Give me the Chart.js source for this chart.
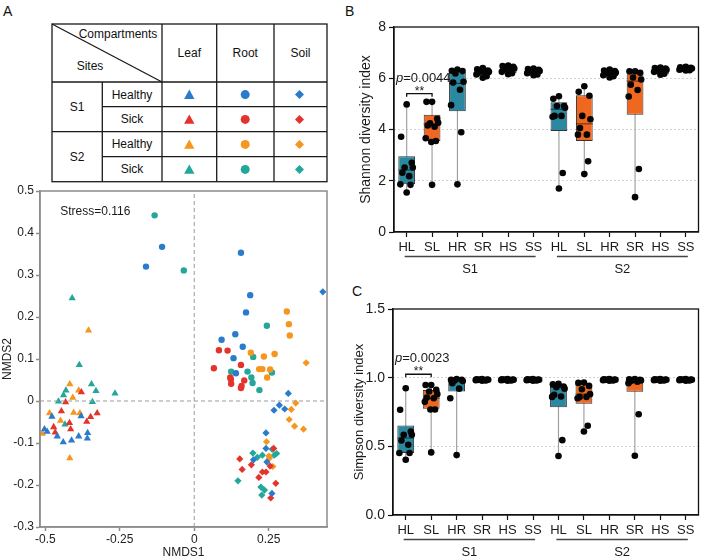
<!DOCTYPE html>
<html>
<head>
<meta charset="utf-8">
<script src="https://cdn.jsdelivr.net/npm/chart.js@4.4.1/dist/chart.umd.min.js"></script>
<style>
  body { margin: 0; background: #fff; width: 708px; height: 560px; position: relative; overflow: hidden;
         font-family: "Liberation Sans", Arial, sans-serif; }
  canvas, svg, .lab { position: absolute; }
  .lab { font-size: 14px; color: #111; }
</style>
</head>
<body>
<div class="lab" style="left:3px;top:3px">A</div>
<div class="lab" style="left:345px;top:3px">B</div>
<div class="lab" style="left:352px;top:283px">C</div>

<svg id="legendTable" style="left:0;top:0" width="340" height="186" font-family="Liberation Sans, Arial, sans-serif" font-size="12" fill="#111">
  <g stroke="#1a1a1a" stroke-width="1.3" fill="none">
    <rect x="52" y="24" width="275" height="157.7"/>
    <line x1="52" y1="24" x2="162" y2="82"/>
    <line x1="102.3" y1="82" x2="102.3" y2="181.7"/>
    <line x1="162" y1="24" x2="162" y2="181.7"/>
    <line x1="216.7" y1="24" x2="216.7" y2="181.7"/>
    <line x1="274" y1="24" x2="274" y2="181.7"/>
    <line x1="52" y1="82" x2="327" y2="82"/>
    <line x1="102.3" y1="106.7" x2="327" y2="106.7"/>
    <line x1="52" y1="131.7" x2="327" y2="131.7"/>
    <line x1="102.3" y1="156.7" x2="327" y2="156.7"/>
  </g>
  <g text-anchor="middle" dominant-baseline="central">
    <text x="118" y="33.5">Compartments</text>
    <text x="90" y="65.5">Sites</text>
    <text x="189.3" y="53">Leaf</text>
    <text x="245.3" y="53">Root</text>
    <text x="300.5" y="53">Soil</text>
    <text x="77" y="107">S1</text>
    <text x="77" y="157">S2</text>
    <text x="132" y="94.5">Healthy</text>
    <text x="132" y="119.3">Sick</text>
    <text x="132" y="144.3">Healthy</text>
    <text x="132" y="169.3">Sick</text>
  </g>
  <g id="legendMarks"></g>
</svg>

<canvas id="nmds" width="340" height="380" style="left:0;top:180px"></canvas>
<canvas id="shannon" width="368" height="280" style="left:340px;top:0"></canvas>
<canvas id="simpson" width="368" height="280" style="left:340px;top:280px"></canvas>

<script>
// ---- NMDS scores (NMDS1, NMDS2) ----
const s1HealthyLeaf = [[-0.478,-0.037],[-0.380,-0.036],[-0.503,-0.067],[-0.494,-0.073],[-0.460,-0.084],[-0.358,-0.076],[-0.388,-0.084],[-0.359,-0.089],[-0.412,-0.094],[-0.440,-0.098]];
const s1SickLeaf = [[-0.379,0.021],[-0.432,-0.003],[-0.446,-0.024],[-0.326,-0.029],[-0.348,-0.038],[-0.361,-0.049],[-0.419,-0.052],[-0.472,-0.062],[-0.415,-0.067],[-0.467,-0.075]];
const s2HealthyLeaf = [[-0.355,0.168],[-0.418,0.040],[-0.388,0.025],[-0.408,0.008],[-0.486,-0.029],[-0.405,-0.028],[-0.384,-0.029],[-0.449,-0.047],[-0.510,-0.078],[-0.418,-0.136]];
const s2SickLeaf = [[-0.410,0.245],[-0.386,0.086],[-0.345,0.040],[-0.431,0.025],[-0.330,0.024],[-0.439,0.014],[-0.456,-0.001],[-0.342,-0.002],[-0.266,0.018],[-0.434,-0.056]];

const s1HealthyRoot = [[-0.162,0.320],[-0.108,0.367],[0.157,0.353],[0.188,0.252],[0.174,0.211],[0.138,0.159],[0.092,0.146],[0.163,0.129],[0.132,0.102],[0.140,0.066]];
const s1SickRoot = [[0.083,0.121],[0.112,0.120],[0.066,0.078],[0.157,0.086],[0.123,0.052],[0.124,0.041],[0.168,0.049],[0.159,0.036],[0.157,0.031],[0.121,0.056]];
const s2HealthyRoot = [[0.311,0.213],[0.318,0.183],[0.321,0.156],[0.190,0.115],[0.234,0.106],[0.270,0.112],[0.218,0.076],[0.229,0.076],[0.255,0.075],[0.245,0.056]];
const s2SickRoot = [[-0.035,0.311],[-0.133,0.442],[0.244,0.179],[0.198,0.105],[0.124,0.070],[0.179,0.070],[0.192,0.056],[0.196,0.043],[0.261,0.068],[0.219,0.026]];

const s1HealthySoil = [[0.432,0.260],[0.316,0.018],[0.286,-0.010],[0.268,-0.022],[0.304,-0.019],[0.241,-0.076],[0.241,-0.113],[0.199,-0.140],[0.244,-0.145],[0.261,-0.220]];
const s1SickSoil = [[0.267,-0.113],[0.153,-0.138],[0.192,-0.152],[0.255,-0.155],[0.161,-0.163],[0.229,-0.169],[0.241,-0.169],[0.217,-0.182],[0.274,-0.196],[0.257,-0.231]];
const s2HealthySoil = [[0.376,0.091],[0.341,-0.005],[0.326,-0.020],[0.319,-0.044],[0.337,-0.060],[0.367,-0.067],[0.243,-0.097],[0.251,-0.131],[0.253,-0.136],[0.264,-0.156]];
const s2SickSoil = [[0.197,-0.124],[0.212,-0.134],[0.229,-0.129],[0.269,-0.129],[0.277,-0.125],[0.262,-0.115],[0.147,-0.190],[0.224,-0.205],[0.236,-0.212],[0.227,-0.224]];

const nmds1Ticks = [-0.5, -0.25, 0, 0.25];
const nmds2Ticks = [-0.3, -0.2, -0.1, 0, 0.1, 0.2, 0.3, 0.4, 0.5];
const stress = '0.116';

// ---- diversity indices ----
const categories = ['HL','SL','HR','SR','HS','SS','HL','SL','HR','SR','HS','SS'];
const siteGroups = ['S1','S2'];

const shannonMin    = [1.54, 1.84, 1.86, 6.02, 6.16, 6.12, 1.70, 2.26, 6.03, 1.36, 6.14, 6.30];
const shannonQ1     = [1.86, 3.55, 4.71, 6.12, 6.20, 6.19, 3.94, 3.55, 6.08, 4.58, 6.15, 6.28];
const shannonMedian = [2.42, 4.21, 5.80, 6.22, 6.35, 6.25, 4.79, 4.22, 6.20, 5.89, 6.30, 6.35];
const shannonQ3     = [2.96, 4.58, 6.23, 6.30, 6.48, 6.36, 5.06, 5.34, 6.30, 6.24, 6.38, 6.44];
const shannonMax    = [4.98, 5.08, 6.34, 6.40, 6.50, 6.38, 5.30, 5.69, 6.34, 6.30, 6.42, 6.45];
const shannonPoints = [
  [4.98, 3.72, 2.70, 2.52, 2.52, 2.31, 2.18, 1.86, 1.84, 1.54],
  [5.08, 5.08, 4.42, 4.24, 4.26, 4.16, 4.11, 3.66, 3.55, 3.51, 1.84],
  [6.34, 6.29, 6.28, 6.19, 5.86, 5.83, 5.55, 4.95, 3.89, 1.86],
  [6.40, 6.35, 6.30, 6.28, 6.25, 6.22, 6.20, 6.15, 6.08, 6.02],
  [6.50, 6.48, 6.45, 6.42, 6.38, 6.35, 6.30, 6.25, 6.20, 6.16],
  [6.38, 6.36, 6.33, 6.30, 6.28, 6.25, 6.22, 6.20, 6.15, 6.12],
  [5.30, 5.20, 4.92, 4.92, 4.85, 4.53, 4.53, 4.50, 2.30, 1.70],
  [5.69, 5.47, 5.32, 4.53, 4.40, 4.06, 3.80, 3.80, 2.76, 2.26],
  [6.34, 6.30, 6.28, 6.25, 6.22, 6.20, 6.15, 6.12, 6.08, 6.03],
  [6.27, 6.27, 6.21, 6.03, 5.95, 5.75, 5.54, 5.29, 2.46, 1.36],
  [6.42, 6.40, 6.38, 6.36, 6.33, 6.30, 6.28, 6.25, 6.18, 6.14],
  [6.45, 6.43, 6.41, 6.40, 6.38, 6.36, 6.35, 6.33, 6.31, 6.30]
];

const simpsonMin    = [0.402, 0.456, 0.436, 0.978, 0.978, 0.978, 0.430, 0.608, 0.978, 0.431, 0.978, 0.978];
const simpsonQ1     = [0.451, 0.773, 0.900, 0.981, 0.981, 0.981, 0.785, 0.810, 0.981, 0.897, 0.981, 0.981];
const simpsonMedian = [0.560, 0.850, 0.980, 0.985, 0.985, 0.985, 0.930, 0.880, 0.985, 0.970, 0.985, 0.985];
const simpsonQ3     = [0.652, 0.911, 0.990, 0.988, 0.988, 0.988, 0.947, 0.952, 0.988, 0.990, 0.988, 0.988];
const simpsonMax    = [0.923, 0.947, 0.990, 0.990, 0.990, 0.990, 0.955, 0.964, 0.990, 0.990, 0.990, 0.990];
const simpsonPoints = [
  [0.923, 0.766, 0.608, 0.584, 0.584, 0.543, 0.511, 0.451, 0.451, 0.402],
  [0.947, 0.947, 0.911, 0.899, 0.880, 0.855, 0.850, 0.824, 0.768, 0.768, 0.456],
  [0.990, 0.985, 0.985, 0.980, 0.975, 0.960, 0.920, 0.850, 0.436],
  [0.990, 0.988, 0.987, 0.986, 0.985, 0.984, 0.983, 0.982, 0.980, 0.978],
  [0.990, 0.988, 0.987, 0.986, 0.985, 0.984, 0.983, 0.982, 0.980, 0.978],
  [0.990, 0.988, 0.987, 0.986, 0.985, 0.984, 0.983, 0.982, 0.980, 0.978],
  [0.955, 0.952, 0.935, 0.930, 0.920, 0.875, 0.863, 0.860, 0.545, 0.430],
  [0.964, 0.962, 0.940, 0.916, 0.880, 0.860, 0.860, 0.850, 0.650, 0.608],
  [0.990, 0.988, 0.987, 0.986, 0.985, 0.984, 0.983, 0.982, 0.980, 0.978],
  [0.990, 0.988, 0.985, 0.982, 0.980, 0.975, 0.970, 0.960, 0.734, 0.431],
  [0.990, 0.988, 0.987, 0.986, 0.985, 0.984, 0.983, 0.982, 0.980, 0.978],
  [0.990, 0.988, 0.987, 0.986, 0.985, 0.984, 0.983, 0.982, 0.980, 0.978]
];

// ---- styling ----
const FONT = '"Liberation Sans", Arial, sans-serif';
Chart.defaults.font.family = FONT;
Chart.defaults.color = '#1a1a1a';

const BLUE = '#2a7bcb', RED = '#e3342c', ORANGE = '#f5961f', TEAL = '#22a79a';
const BOX_TEAL = '#2a88a0', BOX_ORANGE = '#f0671f';
const JIT = [0, -0.22, 0.2, -0.08, 0.24, -0.17, 0.1, -0.25, 0.15, -0.03, 0.05];

// legend markers in the table
(function () {
  const rowsY = [94.6, 119.4, 144.4, 169.4];
  const cols = [BLUE, RED, ORANGE, TEAL];
  const ns = 'http://www.w3.org/2000/svg';
  const g = document.getElementById('legendMarks');
  rowsY.forEach((y, r) => {
    const tri = document.createElementNS(ns, 'polygon');
    tri.setAttribute('points', `189.3,${y-5} 194.5,${y+4.3} 184.1,${y+4.3}`);
    tri.setAttribute('fill', cols[r]);
    const cir = document.createElementNS(ns, 'circle');
    cir.setAttribute('cx', 245.2); cir.setAttribute('cy', y); cir.setAttribute('r', 4.5);
    cir.setAttribute('fill', cols[r]);
    const dia = document.createElementNS(ns, 'polygon');
    dia.setAttribute('points', `299.5,${y-4.5} 304,${y} 299.5,${y+4.5} 295,${y}`);
    dia.setAttribute('fill', cols[r]);
    g.append(tri, cir, dia);
  });
})();

// frame, group labels, significance bracket, stress text
const extras = {
  id: 'extras',
  afterDraw(chart, args, o) {
    const {ctx, chartArea: a, scales: {x, y}} = chart;
    ctx.save();
    ctx.strokeStyle = o.frame;
    ctx.lineWidth = o.frameWidth;
    ctx.strokeRect(a.left, a.top, a.right - a.left, a.bottom - a.top);
    ctx.fillStyle = '#1a1a1a';
    if (o.stress) {
      ctx.font = '12px ' + FONT;
      ctx.textAlign = 'left';
      ctx.textBaseline = 'middle';
      ctx.fillText('Stress=' + stress, x.getPixelForValue(-0.45), y.getPixelForValue(0.45));
    }
    if (o.groups) {
      ctx.strokeStyle = '#444';
      ctx.lineWidth = 1.3;
      ctx.font = '13px ' + FONT;
      ctx.textAlign = 'center';
      ctx.textBaseline = 'middle';
      siteGroups.forEach((s, gi) => {
        const x1 = x.getPixelForValue(gi * 6 - 0.08), x2 = x.getPixelForValue(gi * 6 + 5.08);
        ctx.beginPath();
        ctx.moveTo(x1, a.bottom + 24.5);
        ctx.lineTo(x2, a.bottom + 24.5);
        ctx.stroke();
        ctx.fillText(s, (x1 + x2) / 2, a.bottom + 37.5);
      });
    }
    if (o.bracket) {
      const b = o.bracket;
      const bx1 = x.getPixelForValue(0), bx2 = x.getPixelForValue(1), by = y.getPixelForValue(b.at);
      ctx.strokeStyle = '#111';
      ctx.lineWidth = 1.3;
      ctx.beginPath();
      ctx.moveTo(bx1, by + 3); ctx.lineTo(bx1, by); ctx.lineTo(bx2, by); ctx.lineTo(bx2, by + 3);
      ctx.stroke();
      ctx.font = '12px ' + FONT;
      ctx.textAlign = 'center';
      ctx.textBaseline = 'alphabetic';
      ctx.fillText('**', (bx1 + bx2) / 2, y.getPixelForValue(b.star) + 7);
      ctx.textAlign = 'left';
      ctx.textBaseline = 'middle';
      const px = a.left + 2, py = y.getPixelForValue(b.pAt);
      ctx.font = 'italic 13px ' + FONT;
      ctx.fillText('p', px, py);
      const w = ctx.measureText('p').width;
      ctx.font = '13px ' + FONT;
      ctx.fillText('=' + b.p, px + w, py);
    }
    ctx.restore();
  }
};

// ---- NMDS scatter ----
const X_MIN = -0.518, X_MAX = 0.446, Y_MIN = -0.3, Y_MAX = 0.5;
const nmdsSets = [
  [s1HealthyLeaf, BLUE, 'triangle'], [s1SickLeaf, RED, 'triangle'], [s2HealthyLeaf, ORANGE, 'triangle'], [s2SickLeaf, TEAL, 'triangle'],
  [s1HealthyRoot, BLUE, 'circle'], [s1SickRoot, RED, 'circle'], [s2HealthyRoot, ORANGE, 'circle'], [s2SickRoot, TEAL, 'circle'],
  [s1HealthySoil, BLUE, 'rectRot'], [s1SickSoil, RED, 'rectRot'], [s2HealthySoil, ORANGE, 'rectRot'], [s2SickSoil, TEAL, 'rectRot']
];
const MARK = {triangle: 4.2, circle: 3.2, rectRot: 3.6};

new Chart(document.getElementById('nmds'), {
  type: 'scatter',
  data: {
    datasets: [
      {type: 'line', data: [{x: 0, y: Y_MIN}, {x: 0, y: Y_MAX}], borderColor: '#9b9b9b', borderWidth: 1, borderDash: [4, 3], pointRadius: 0},
      {type: 'line', data: [{x: X_MIN, y: 0}, {x: X_MAX, y: 0}], borderColor: '#9b9b9b', borderWidth: 1, borderDash: [4, 3], pointRadius: 0}
    ].concat(nmdsSets.map(([pts, col, shape]) => ({
      data: pts.map(p => ({x: p[0], y: p[1]})),
      pointStyle: shape, pointRadius: MARK[shape], backgroundColor: col, borderWidth: 0
    })))
  },
  options: {
    responsive: false, animation: false, events: [],
    layout: {padding: {top: 11, right: 13, left: 0, bottom: 0}},
    plugins: {legend: {display: false}, tooltip: {enabled: false},
              extras: {frame: '#8c8c8c', frameWidth: 1.5, stress: true}},
    scales: {
      x: {
        type: 'linear', min: X_MIN, max: X_MAX,
        afterBuildTicks: s => { s.ticks = nmds1Ticks.map(v => ({value: v})); },
        afterFit: s => { s.height = 33; },
        ticks: {padding: 1, font: {size: 12}, color: '#222', callback: v => String(v)},
        grid: {drawOnChartArea: false, tickLength: 4, tickColor: '#8c8c8c', tickWidth: 1.5},
        border: {color: '#8c8c8c', width: 1.5},
        title: {display: true, text: 'NMDS1', font: {size: 12}, color: '#222', padding: {top: 0, bottom: 0}}
      },
      y: {
        type: 'linear', min: Y_MIN, max: Y_MAX,
        afterBuildTicks: s => { s.ticks = nmds2Ticks.map(v => ({value: v})); },
        afterFit: s => { s.width = 40; },
        ticks: {padding: 2, font: {size: 12}, color: '#222', callback: v => v === 0 ? '0' : v.toFixed(1)},
        grid: {drawOnChartArea: false, tickLength: 4, tickColor: '#8c8c8c', tickWidth: 1.5},
        border: {color: '#8c8c8c', width: 1.5},
        title: {display: true, text: 'NMDS2', font: {size: 12}, color: '#222', padding: {top: 0, bottom: 0}}
      }
    }
  },
  plugins: [extras]
});

// ---- box plots ----
function boxChart(id, o) {
  const idx = categories.map((_, i) => i);
  const fill = categories.map(c => c[0] === 'H' ? BOX_TEAL : BOX_ORANGE);
  const dots = [];
  o.points.forEach((vals, i) => vals.forEach((v, k) => {
    dots.push({x: i + (k === vals.length - 1 ? 0 : JIT[k]), y: v});
  }));
  return new Chart(document.getElementById(id), {
    type: 'scatter',
    data: {
      datasets: [
        {data: dots, pointRadius: 3.3, backgroundColor: '#050505', borderWidth: 0, order: 0},
        {data: idx.map(i => ({x: i, y: o.med[i]})), pointStyle: 'line', pointRadius: 8.5,
         borderColor: 'rgba(0,0,0,0.6)', borderWidth: 1, order: 1},
        {data: idx.flatMap(i => [{x: i, y: o.min[i]}, {x: i, y: o.max[i]}]), pointStyle: 'line', pointRadius: 3,
         borderColor: '#333', borderWidth: 1, order: 2},
        {type: 'bar', data: idx.map(i => ({x: i, y: [o.q1[i], o.q3[i]]})), backgroundColor: fill,
         borderColor: '#333', borderWidth: 1, borderSkipped: false, grouped: false,
         categoryPercentage: 1, barPercentage: 0.66, order: 3},
        {type: 'bar', data: idx.map(i => ({x: i, y: [o.min[i], o.max[i]]})), backgroundColor: '#9e9e9e',
         grouped: false, categoryPercentage: 1, barPercentage: 0.045, order: 4}
      ]
    },
    options: {
      responsive: false, animation: false, events: [],
      layout: {padding: o.pad},
      plugins: {legend: {display: false}, tooltip: {enabled: false},
                extras: {frame: '#111', frameWidth: 1.3, groups: true, bracket: o.bracket}},
      scales: {
        x: {
          type: 'linear', min: -0.5, max: 11.5, offset: false,
          afterBuildTicks: s => { s.ticks = idx.map(i => ({value: i})); },
          afterFit: s => { s.height = o.xh; },
          ticks: {autoSkip: false, maxRotation: 0, padding: 3, font: {size: 13}, color: '#1a1a1a',
                  callback: v => categories[v]},
          grid: {offset: false, drawOnChartArea: false, tickLength: 5, tickColor: '#111', tickWidth: 1.2},
          border: {color: '#111', width: 1.3}
        },
        y: {
          type: 'linear', min: o.lo, max: o.hi,
          afterBuildTicks: s => { s.ticks = o.ticks.map(v => ({value: v})); },
          afterFit: s => { s.width = o.yw; },
          ticks: {padding: 3, font: {size: 14}, color: '#1a1a1a', callback: o.fmt},
          grid: {color: c => (c.tick && o.grid.includes(c.tick.value)) ? '#c4c4c4' : 'rgba(0,0,0,0)',
                 lineWidth: 1, tickLength: 5, tickColor: '#111', tickWidth: 1.2},
          border: {color: '#111', width: 1.3, dash: [1.5, 2.5]},
          title: {display: true, text: o.title, font: {size: o.titleSize}, color: '#1a1a1a',
                  padding: {top: o.titlePad, bottom: 0}}
        }
      }
    },
    plugins: [extras]
  });
}

boxChart('shannon', {
  min: shannonMin, q1: shannonQ1, med: shannonMedian, q3: shannonQ3, max: shannonMax, points: shannonPoints,
  lo: 0, hi: 8, ticks: [0, 2, 4, 6, 8], grid: [2, 4, 6], fmt: v => String(v),
  pad: {top: 27, right: 5, left: 0, bottom: 0}, xh: 48, yw: 54,
  title: 'Shannon diversity index', titleSize: 14, titlePad: 17.6,
  bracket: {at: 5.40, star: 5.63, pAt: 6.0, p: '0.0044'}
});

boxChart('simpson', {
  min: simpsonMin, q1: simpsonQ1, med: simpsonMedian, q3: simpsonQ3, max: simpsonMax, points: simpsonPoints,
  lo: 0, hi: 1.5, ticks: [0, 0.5, 1, 1.5], grid: [0.5, 1], fmt: v => v.toFixed(1),
  pad: {top: 29, right: 6, left: 0, bottom: 0}, xh: 45, yw: 53,
  title: 'Simpson diversity index', titleSize: 13, titlePad: 11.2,
  bracket: {at: 1.025, star: 1.068, pAt: 1.141, p: '0.0023'}
});
</script>
</body>
</html>
